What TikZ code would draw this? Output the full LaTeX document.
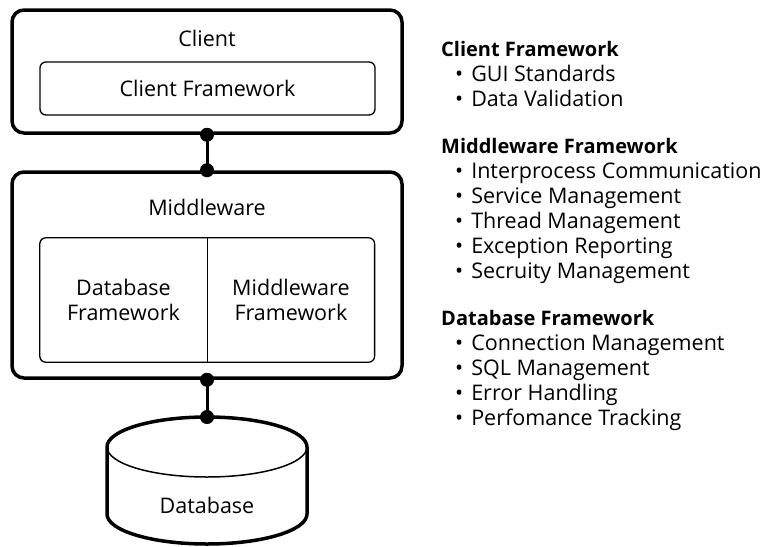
\documentclass[tikz,border=0pt]{standalone}
\usepackage{fontspec}
\setmainfont{Open Sans}
\usepackage{tikz}
\usetikzlibrary{arrows.meta,positioning,calc}
\newcommand{\listitem}[1]{\hspace*{14pt}\textbullet\hspace{8pt}#1}
\newcommand{\listhead}[1]{{\fontsize{20}{25}\selectfont\textbf{#1}}}

\begin{document}
\begin{tikzpicture}[x=1pt,y=1pt,
    font=\fontsize{21.5}{25}\selectfont,
    tierbox/.style={draw,line width=3.5pt,rounded corners=12pt,inner sep=0pt},
    fwbox/.style={draw,line width=1.3pt,rounded corners=6pt,inner sep=0pt},
    fwcell/.style={minimum width=167pt,minimum height=124pt,align=center,inner sep=0pt},
    link/.style={line width=3pt},
    joint/.style={fill,circle,inner sep=0pt,minimum size=14pt}]
  \useasboundingbox (0,0) rectangle (767,-546);

  % client tier
  \node[tierbox,minimum width=390pt,minimum height=123pt] (client) at (207,-71.5) {};
  \node (clienttitle) at (207,-38) {Client};
  \node[fwbox,minimum width=335pt,minimum height=53pt] (clientfw) at (207.5,-88.5) {Client Framework};

  % middleware tier
  \node[tierbox,minimum width=390pt,minimum height=206pt] (mw) at (207,-275) {};
  \node (mwtitle) at (207,-207) {Middleware};
  \node[fwcell] (dbfw) at (123.5,-300) {Database\\Framework};
  \node[fwcell,right=0pt of dbfw] (mwfw) {Middleware\\Framework};
  \draw[line width=1.3pt,rounded corners=6pt] (dbfw.north west) rectangle (mwfw.south east);
  \draw[line width=1.3pt] (dbfw.north east) -- (dbfw.south east);

  % database
  \coordinate (dbtop) at (207,-417);
  \draw[line width=3.5pt] (107,-447) -- (107,-514)
    arc[start angle=180,end angle=360,x radius=100,y radius=30] -- (307,-447)
    arc[start angle=0,end angle=180,x radius=100,y radius=30] -- cycle;
  \draw[line width=1.5pt] (107,-447) arc[start angle=180,end angle=360,x radius=100,y radius=30];
  \node (db) at (207,-505) {Database};

  % connectors
  \draw[link] (client.south) -- (mw.north);
  \draw[link] (mw.south) -- (dbtop);
  \foreach \p in {client.south,mw.north,mw.south,dbtop}
    \node[joint] at (\p) {};

  % framework lists
  \node[anchor=north west,align=left,inner sep=0pt] (clientlist) at (441,-41)
    {\listhead{Client Framework}\\\listitem{GUI Standards}\\\listitem{Data Validation}};
  \node[anchor=north west,align=left,inner sep=0pt] (mwlist) at (441,-138)
    {\listhead{Middleware Framework}\\\listitem{Interprocess Communication}\\\listitem{Service Management}\\
     \listitem{Thread Management}\\\listitem{Exception Reporting}\\\listitem{Secruity Management}};
  \node[anchor=north west,align=left,inner sep=0pt] (dblist) at (441,-310)
    {\listhead{Database Framework}\\\listitem{Connection Management}\\\listitem{SQL Management}\\
     \listitem{Error Handling}\\\listitem{Perfomance Tracking}};
\end{tikzpicture}
\end{document}
